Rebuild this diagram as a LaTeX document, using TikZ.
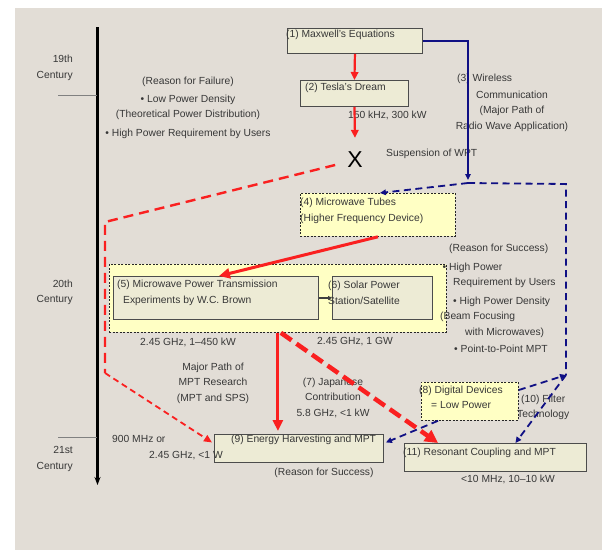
\documentclass[tikz,border=0pt]{standalone}
\usepackage{xcolor}
\usepackage{fontspec}
\setmainfont{Liberation Sans}
\usepackage{tikz}
\usetikzlibrary{shapes,arrows.meta,positioning,calc}
\definecolor{slidegray}{RGB}{226,221,214}
\definecolor{boxbeige}{RGB}{237,235,213}
\definecolor{noteyellow}{RGB}{255,255,196}
\definecolor{mptred}{RGB}{250,32,32}
\definecolor{radioblue}{RGB}{16,16,132}
\definecolor{inkgray}{RGB}{55,55,55}

\begin{document}
\begin{tikzpicture}[x=1pt,y=-1pt,
    txt/.style={text=inkgray, font=\fontsize{10.3}{15.5}\selectfont, inner sep=0pt},
    era/.style={txt, align=right, anchor=east},
    stagebox/.style={draw=black!70, fill=boxbeige, line width=0.9pt, inner sep=0pt, anchor=north west},
    notebox/.style={draw=black!85, fill=noteyellow, dash pattern=on 2pt off 1.5pt, line width=0.8pt, inner sep=0pt, anchor=north west},
    redline/.style={mptred, line width=2.2pt, -{Triangle[length=8pt,width=7.5pt]}},
    redbold/.style={mptred, line width=3pt, -{Triangle[length=11pt,width=10pt]}},
    reddash/.style={mptred, line width=2.4pt, dash pattern=on 10pt off 6pt},
    redthin/.style={mptred, line width=1.8pt, dash pattern=on 6pt off 4pt, -{Triangle[length=8pt,width=7pt]}},
    redheavy/.style={mptred, line width=4.5pt, dash pattern=on 13pt off 6pt, -{Triangle[length=13pt,width=13pt]}},
    blueline/.style={radioblue, line width=1.3pt},
    bluedash/.style={radioblue, line width=1.8pt, dash pattern=on 7pt off 4.5pt},
    bluetip/.style={-{Triangle[length=6pt,width=5.5pt]}}
]
\useasboundingbox (0,0) rectangle (602,550);
\fill[white] (0,0) rectangle (602,550);
\fill[slidegray] (15,8) rectangle (602,550);

% time line
\coordinate (tltop) at (97.5,27);
\coordinate (tlend) at (97.5,485);
\draw[black, line width=2.2pt, -{Stealth[length=8pt,width=6pt]}] (tltop) -- (tlend);
\draw[line width=1pt, black!50] (58,95) -- (97,95);
\draw[line width=1pt, black!50] (58,437) -- (97,437);
\node[era] (c19) at (73,68) {19th\\Century};
\node[era] (c20) at (73,292.5) {20th\\Century};
\node[era] (c21) at (73,459) {21st\\Century};

% 19th century
\node[stagebox, minimum width=135pt, minimum height=25pt] (maxwell) at (287,28) {};
\node[txt, anchor=west] (maxwelltxt) at ([shift={(-1pt,-7pt)}]maxwell.north west) {(1) Maxwell's Equations};
\node[stagebox, minimum width=108pt, minimum height=26pt] (tesla) at (300,80) {};
\node[txt, anchor=west] (teslatxt) at ([shift={(5pt,-8pt)}]tesla.north west) {(2) Tesla's Dream};
\node[txt, anchor=west] (teslafreq) at (348,115) {150 kHz, 300 kW};
\node[inner sep=0pt, font=\fontsize{23}{23}\selectfont] (fail) at (355,160) {X};
\node[txt, anchor=west] (suspend) at (386,154) {Suspension of WPT};
\node[txt, align=center] (failure) at (188,108) {(Reason for Failure)\\[2pt]• Low Power Density\\(Theoretical Power Distribution)\\[3pt]• High Power Requirement by Users};
\node[txt, anchor=west] (wireless) at (457,79) {(3) Wireless};
\node[txt, align=center] (radio) at (512,111) {Communication\\(Major Path of\\Radio Wave Application)};

% 20th century
\node[notebox, minimum width=155pt, minimum height=43pt] (tubes) at (300,193) {};
\node[txt, anchor=west, align=left] (tubestxt) at ([yshift=-18pt]tubes.north west) {(4) Microwave Tubes\\(Higher Frequency Device)};
\node[notebox, minimum width=337pt, minimum height=68pt] (mptgroup) at (109,264) {};
\node[stagebox, minimum width=205pt, minimum height=43pt] (brown) at (113,276) {};
\node[txt, anchor=west, align=left] (browntxt) at ([shift={(4pt,-17pt)}]brown.north west) {(5) Microwave Power Transmission\\\hspace*{6pt}Experiments by W.C. Brown};
\node[stagebox, minimum width=100pt, minimum height=43pt] (sps) at (332,276) {};
\node[txt, anchor=west, align=left] (spstxt) at ([shift={(-4pt,-17pt)}]sps.north west) {(6) Solar Power\\Station/Satellite};
\node[txt] (brownfreq) at (188,342) {2.45 GHz, 1--450 kW};
\node[txt] (spsfreq) at (355,342) {2.45 GHz, 1 GW};
\node[txt, anchor=west, align=left] (success) at (440,298.5) {\hspace*{9pt}(Reason for Success)\\[3pt]\hspace*{2.5pt}• High Power\\\hspace*{13pt}Requirement by Users\\[3pt]\hspace*{13pt}• High Power Density\\(Beam Focusing\\\hspace*{25pt}with Microwaves)\\[2pt]\hspace*{14pt}• Point-to-Point MPT};
\node[txt, align=center] (majorpath) at (213,383) {Major Path of\\MPT Research\\(MPT and SPS)};
\node[txt, align=center] (japan) at (333,397.5) {(7) Japanese\\Contribution\\5.8 GHz, <1 kW};
\node[notebox, minimum width=97pt, minimum height=38pt] (digital) at (421,382) {};
\node[txt, anchor=west, align=left] (digitaltxt) at ([shift={(-2pt,-15.5pt)}]digital.north west) {(8) Digital Devices\\\hspace*{12pt}= Low Power};
\node[txt, anchor=west, align=left] (filter) at (517,407.5) {\hspace*{4pt}(10) Filter\\Technology};

% 21st century
\node[stagebox, minimum width=169pt, minimum height=28pt] (harvest) at (214,434) {};
\node[txt, anchor=west] (harvesttxt) at ([shift={(17pt,-6pt)}]harvest.north west) {(9) Energy Harvesting and MPT};
\node[txt] (harvestwhy) at (324,473) {(Reason for Success)};
\node[txt, anchor=west, align=left] (lowpower) at (112,447.5) {900 MHz or\\\hspace*{37pt}2.45 GHz, <1 W};
\node[stagebox, minimum width=182pt, minimum height=28pt] (reson) at (404,443) {};
\node[txt, anchor=west] (resontxt) at ([shift={(-1pt,-10pt)}]reson.north west) {(11) Resonant Coupling and MPT};
\node[txt] (resonfreq) at (508,479) {<10 MHz, 10--10 kW};

% blue paths
\coordinate (wjoin) at (468,183);
\coordinate (fcorner) at (566,184);
\coordinate (fjoin) at (566,375);
\draw[blueline, bluetip] (maxwell.east) -| ([yshift=3pt]wjoin);
\draw[bluedash, bluetip] (wjoin) -- ([xshift=2pt]tubes.north);
\draw[bluedash] (wjoin) -- (fcorner) -- (fjoin);
\draw[bluedash, bluetip] ([yshift=-8pt]digital.north east) -- (fjoin);
\draw[bluedash, bluetip] (fjoin) -- ([xshift=20pt]reson.north);
\draw[bluedash, bluetip] ([xshift=17pt]digital.south west) -- ([shift={(2pt,6pt)}]harvest.east);

% red paths
\coordinate (lc1) at (105,222);
\coordinate (lc2) at (105,373);
\draw[redline] (maxwell.south) -- (tesla.north);
\draw[redline] (tesla.south) -- ([yshift=14pt]fail.north);
\draw[reddash] ([shift={(-12pt,-5pt)}]fail.west) -- (lc1) -- (lc2);
\draw[redthin] (lc2) -- ([shift={(-2pt,6pt)}]harvest.west);
\draw[redbold] (tubes.south) -- ([xshift=3pt]brown.north);
\draw[black!75, line width=1.4pt, -{Triangle[length=4pt,width=4pt]}] (brown.east) -- (sps.west);
\draw[redbold, shorten >=3pt] (mptgroup.south) -- (mptgroup.south |- harvest.north);
\draw[redheavy] ([xshift=3pt]mptgroup.south) -- ([xshift=34pt]reson.north west);
\end{tikzpicture}
\end{document}
